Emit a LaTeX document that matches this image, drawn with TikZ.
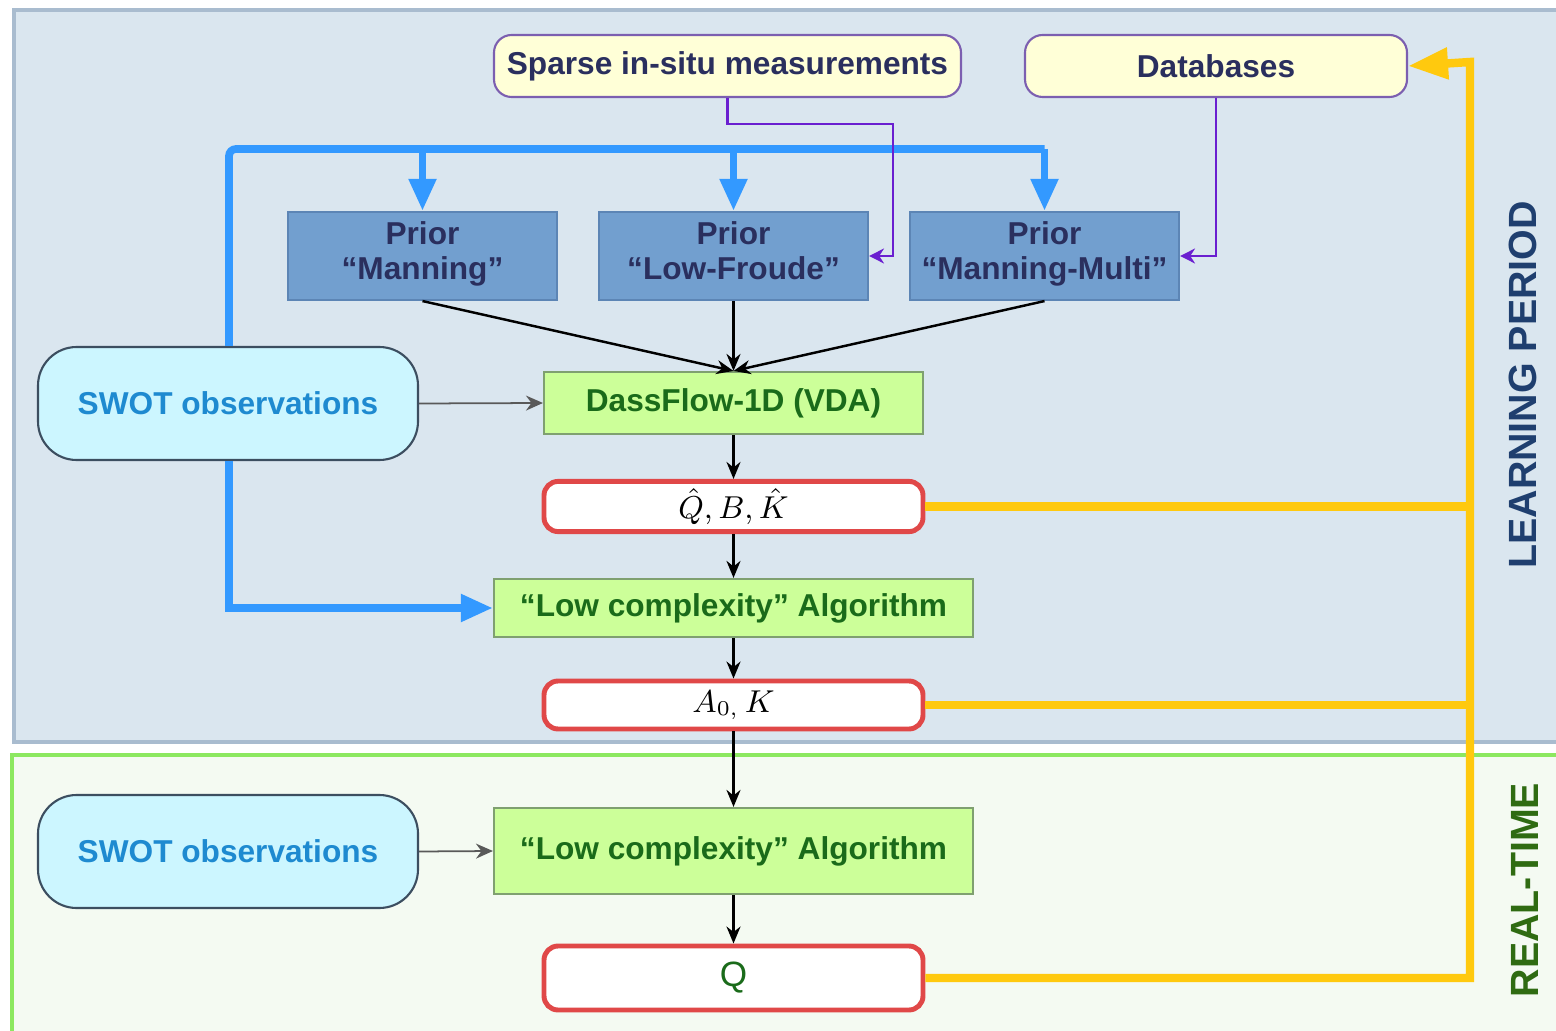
\documentclass[tikz,border=0pt]{standalone}
\usepackage{fontspec}
\setsansfont{Liberation Sans}
\usetikzlibrary{arrows.meta, positioning, calc}
\definecolor{cpanel}{HTML}{DAE6EF}
\definecolor{cpanelb}{HTML}{A9BCCF}
\definecolor{crt}{HTML}{F4FAF2}
\definecolor{crtb}{HTML}{8CE860}
\definecolor{cyel}{HTML}{FFC90E}
\definecolor{cblue}{HTML}{3399FF}
\definecolor{cprior}{HTML}{729FCF}
\definecolor{cpriorb}{HTML}{5C85B5}
\definecolor{cnavy}{HTML}{2A2F5E}
\definecolor{cswot}{HTML}{CCF6FF}
\definecolor{cswotb}{HTML}{3C4E60}
\definecolor{cswott}{HTML}{1E8AD0}
\definecolor{cgreen}{HTML}{CCFF99}
\definecolor{cgreenb}{HTML}{7FA070}
\definecolor{cgreent}{HTML}{1A6B1A}
\definecolor{cred}{HTML}{E04848}
\definecolor{cpurple}{HTML}{6A1FD0}
\definecolor{cpurpb}{HTML}{7C5FB0}
\definecolor{cpale}{HTML}{FFFFD7}
\definecolor{clearn}{HTML}{1F3F6F}
\definecolor{creal}{HTML}{2F6B12}
\tikzset{
  every picture/.style={font=\sffamily\bfseries\fontsize{9}{10}\selectfont, line width=0.6pt},
  box/.style={draw=#1, rectangle, align=center, inner sep=2pt},
  box/.default=black,
  prior/.style={box=cpriorb, fill=cprior, text=cnavy, minimum width=2.69cm, minimum height=0.88cm},
  src/.style={box=cpurpb, fill=cpale, text=cnavy, rounded corners=5pt, minimum height=0.62cm},
  swot/.style={box=cswotb, fill=cswot, text=cswott, rounded corners=11pt, minimum width=3.8cm, minimum height=1.13cm},
  algo/.style={box=cgreenb, fill=cgreen, text=cgreent},
  res/.style={box=cred, fill=white, rounded corners=4pt, line width=1.4pt, minimum width=3.79cm},
  flow/.style={-{Stealth[length=1.7mm, width=1.4mm]}, draw=black, line width=0.7pt},
  side/.style={-{Stealth[length=1.7mm, width=1.5mm]}, draw=gray!70!black, line width=0.5pt},
  feed/.style={-{Stealth[length=1.5mm, width=1.5mm]}, draw=cpurple, line width=0.6pt},
  obs/.style={draw=cblue, line width=2.2pt},
  back/.style={draw=cyel, line width=2.4pt},
  period/.style={font=\sffamily\bfseries\fontsize{11.2}{11.2}\selectfont, rotate=90},
}

\begin{document}
\begin{tikzpicture}[bigtip/.style={-{Triangle[length=3.2mm, width=2.6mm]}}]
  \useasboundingbox (0,0) rectangle (15.56,-10.31);
  \fill[cpanel] (0.14,-0.10) rectangle (15.60,-7.42);
  \draw[cpanelb, line width=1.2pt] (15.60,-0.10) -- (0.14,-0.10) -- (0.14,-7.42) -- (15.60,-7.42);
  \fill[crt] (0.12,-7.55) rectangle (15.60,-10.31);
  \draw[crtb, line width=1.4pt] (15.60,-7.55) -- (0.12,-7.55) -- (0.12,-10.31);

  \node[src, minimum width=4.67cm] (sparse) at (7.275,-0.66) {Sparse in-situ measurements};
  \node[src, minimum width=3.82cm] (databases) at (12.16,-0.66) {Databases};
  \node[prior] (pman) at (4.225,-2.56) {Prior\\“Manning”\strut};
  \node[prior] (plf) at (7.335,-2.56) {Prior\\“Low-Froude”\strut};
  \node[prior] (pmm) at (10.445,-2.56) {Prior\\“Manning-Multi”\strut};
  \node[swot] (swotA) at (2.28,-4.035) {SWOT observations};
  \node[algo, minimum width=3.79cm, minimum height=0.62cm] (dass) at (7.335,-4.03) {DassFlow-1D (VDA)};
  \node[res, minimum height=0.49cm, font=\normalfont\fontsize{9}{9}\selectfont] (qbk) at (7.335,-5.065) {$\hat{Q}{,}\,B{,}\,\hat{K}$};
  \node[res, minimum height=0.48cm, font=\normalfont\fontsize{9}{9}\selectfont] (aok) at (7.335,-7.05) {$A_{0,}\,K$};
  \node[algo, minimum width=4.79cm, minimum height=0.58cm] (lcA) at (7.335,-6.08) {“Low complexity” Algorithm};
  \node[swot] (swotB) at (2.28,-8.515) {SWOT observations};
  \node[algo, minimum width=4.79cm, minimum height=0.86cm] (lcB) at (7.335,-8.51) {“Low complexity” Algorithm};
  \node[res, minimum height=0.64cm, font=\sffamily\fontsize{10}{10}\selectfont, text=cgreent] (qout) at (7.335,-9.78) {Q};

  \coordinate (btop) at (2.29,-1.49);
  \coordinate (trunk) at (14.70,-0.62);
  \draw[obs, rounded corners=2pt] (swotA.north -| btop) -- (btop) -- (btop -| pmm.north);
  \foreach \p in {pman, plf, pmm} \draw[obs, bigtip] (btop -| \p.north) -- (\p.north);
  \draw[obs, bigtip] (swotA.south -| btop) |- (lcA.west);

  \draw[feed] (sparse.south) -- ++(0,-0.26) -| ($(plf.east)+(0.24,0)$) -- (plf.east);
  \draw[feed] (databases.south) |- (pmm.east);

  \foreach \p in {pman, plf, pmm} \draw[flow] (\p.south) -- (dass.north);
  \draw[side] (swotA.east) -- (dass.west);
  \draw[flow] (dass) -- (qbk);
  \draw[flow] (qbk) -- (lcA);
  \draw[flow] (lcA) -- (aok);
  \draw[flow] (aok) -- (lcB);
  \draw[flow] (lcB) -- (qout);
  \draw[side] (swotB.east) -- (lcB.west);

  \draw[back] (qbk.east) -- (qbk.east -| trunk);
  \draw[back] (aok.east) -- (aok.east -| trunk);
  \draw[back, -{Triangle[length=4mm, width=3mm]}] (qout.east) -| (trunk) -- (databases.east);

  \node[period, text=clearn] (learn) at (15.23,-3.85) {LEARNING PERIOD};
  \node[period, text=creal] (realtime) at (15.25,-8.9) {REAL-TIME};
\end{tikzpicture}
\end{document}
